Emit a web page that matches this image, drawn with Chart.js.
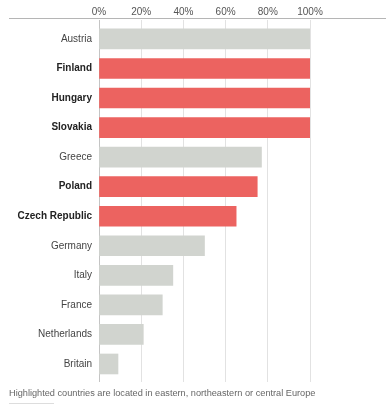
<!DOCTYPE html>
<html>
<head>
<meta charset="utf-8">
<script src="https://cdn.jsdelivr.net/npm/chart.js@4"></script>
<style>
    body { margin: 0; background: #fff; }
    #wrap { position: relative; width: 386px; height: 405px; }
    #note { position: absolute; left: 9px; top: 388px; font: 9.2px "Liberation Sans", Arial, sans-serif; color: #666; white-space: nowrap; }
    #rule { position: absolute; left: 9px; top: 403px; width: 45px; height: 1px; background: #ddd; }
</style>
</head>
<body>
<div id="wrap">
    <canvas id="chart1" width="386" height="405"></canvas>
    <div id="note">Highlighted countries are located in eastern, northeastern or central Europe</div>
    <div id="rule"></div>
</div>
<script>
const chart1div = document.getElementById("chart1")

const countries = ["Austria", "Finland", "Hungary", "Slovakia", "Greece", "Poland", "Czech Republic", "Germany", "Italy", "France", "Netherlands", "Britain"]
const shares = [100, 100, 100, 100, 77, 75, 65, 50, 35, 30, 21, 9]
const highlighted = [false, true, true, true, false, true, true, false, false, false, false, false]
const xTicks = [0, 20, 40, 60, 80, 100]

const fontFamily = "'Liberation Sans', Arial, sans-serif"

const isBold = (ctx) => !!(ctx.tick && highlighted[ctx.tick.value])

// thin rule under the percent labels, running out to the right edge
const topRule = {
    id: "topRule",
    afterDraw(chart) {
        const ctx = chart.ctx
        const y = chart.chartArea.top - 1.5
        ctx.save()
        ctx.strokeStyle = "#b5b5b5"
        ctx.lineWidth = 1
        ctx.beginPath()
        ctx.moveTo(9, y)
        ctx.lineTo(chart.width, y)
        ctx.stroke()
        ctx.restore()
    }
}

new Chart(chart1div, {
    type: "bar",
    data: {
        labels: countries,
        datasets: [{
            data: shares.map((v, i) => ({ x: v, y: i })),
            backgroundColor: highlighted.map(h => h ? "#ec6360" : "#d1d4cf"),
            borderWidth: 0,
            barThickness: 20
        }]
    },
    options: {
        indexAxis: "y",
        responsive: false,
        animation: false,
        layout: { padding: { top: 0, right: 76, bottom: 23, left: 0 } },
        plugins: {
            legend: { display: false },
            tooltip: { enabled: false }
        },
        scales: {
            x: {
                position: "top",
                min: 0,
                max: 100,
                afterBuildTicks: (scale) => { scale.ticks = xTicks.map(v => ({ value: v })) },
                afterFit: (scale) => { scale.height = 20 },
                grid: {
                    color: (ctx) => ctx.tick && ctx.tick.value === 0 ? "#c4c4c4" : "#e2e2e2",
                    drawTicks: false
                },
                border: { display: false },
                ticks: {
                    padding: 2,
                    color: "#555",
                    font: { family: fontFamily, size: 10 },
                    callback: (v) => v + "%"
                }
            },
            y: {
                type: "linear",
                reverse: true,
                offset: false,
                min: -0.64,
                max: 11.61,
                afterBuildTicks: (scale) => { scale.ticks = countries.map((c, i) => ({ value: i })) },
                afterFit: (scale) => { scale.width = 99 },
                grid: { display: false, drawTicks: false, offset: false },
                border: { display: false },
                ticks: {
                    padding: 7,
                    autoSkip: false,
                    color: (ctx) => isBold(ctx) ? "#222" : "#444",
                    font: (ctx) => ({ family: fontFamily, size: 10, weight: isBold(ctx) ? "bold" : "normal" }),
                    callback: (v) => countries[v]
                }
            }
        }
    },
    plugins: [topRule]
});
</script>
</body>
</html>
